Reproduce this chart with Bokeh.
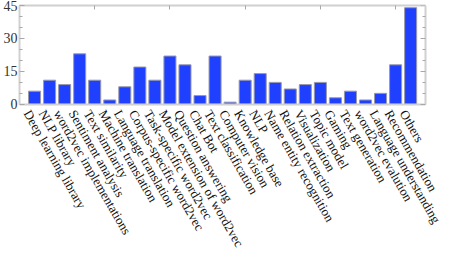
import math
from bokeh.plotting import figure
from bokeh.models import Range1d, FixedTicker, LinearAxis, ColumnDataSource
from bokeh.core.properties import value
from bokeh.embed import file_html
from bokeh.resources import INLINE

categories = [
    "Deep learning library", "NLP library", "word2vec implementations",
    "Sentiment analysis", "Text similarity", "Machine translation",
    "Language translation", "Corpus-specific word2vec", "Task-specific word2vec",
    "Model extension of word2vec", "Question answering", "Chat Bot",
    "Text classification", "Computer vision", "Knowledge base", "NLP",
    "Name entity recognition", "Relation extraction", "Visualization",
    "Topic model", "Gaming", "Text generation", "word2vec evalution",
    "Language understanding", "Recommendation", "Others",
]
counts = [6, 11, 9, 23, 11, 2, 8, 17, 11, 22, 18, 4, 22, 1, 11, 14, 10, 7, 9,
          10, 3, 6, 2, 5, 18, 44]
y_ticks = [0, 15, 30, 45]
y_minor = [5, 10, 20, 25, 35, 40]
top_ticks = [5, 10, 15, 20, 25]

n = len(categories)
positions = list(range(1, n + 1))
source = ColumnDataSource(dict(x=positions, top=counts, name=categories,
                               base=[0] * n))

X_END = n + 1        # right spine of the plotted box
Y_MAX = 45
Y_MIN = -67          # room below the bars for the slanted labels
X_VIEW = 28.45       # room right of the box for label overhang
FONT = "Liberation Serif"
FRAME = "#d0d0d0"
TICK = "#a8a8a8"

p = figure(width=447, height=251, output_backend="svg", toolbar_location=None,
           x_range=Range1d(0, X_VIEW), y_range=Range1d(Y_MIN, Y_MAX),
           min_border_left=15, min_border_right=0, min_border_top=5,
           min_border_bottom=0, x_axis_location=None, y_axis_location=None)
p.grid.visible = False
p.outline_line_color = None
p.background_fill_color = "white"
p.border_fill_color = "white"

p.vbar(x="x", top="top", width=0.8, bottom=0, source=source,
       fill_color="#2040ff", line_color="#9a9aa8", line_width=1)

# slanted category labels
p.text(x="x", y="base", text="name", source=source,
       angle=-math.pi / 3, text_align="left", text_baseline="top",
       x_offset=-1, y_offset=3,
       text_font=value(FONT), text_font_size="13px", text_color="#111111")

# bottom spine at zero (no ticks, no labels)
xb = LinearAxis(ticker=FixedTicker(ticks=[]), fixed_location=0, bounds=(0, X_END))
xb.axis_line_color = FRAME
xb.axis_line_width = 2
xb.major_tick_line_color = None
xb.minor_tick_line_color = None
p.add_layout(xb, "below")

# top axis: ticks only
xt = LinearAxis(ticker=FixedTicker(ticks=top_ticks), bounds=(0, X_END),
                major_label_overrides={t: "" for t in top_ticks})
xt.major_label_standoff = 0
xt.major_tick_in = 4
xt.major_tick_out = 0
xt.major_tick_line_color = TICK
xt.minor_tick_line_color = None
xt.axis_line_color = FRAME
xt.axis_line_width = 2
p.add_layout(xt, "above")

# left axis
yl = LinearAxis(ticker=FixedTicker(ticks=y_ticks, minor_ticks=y_minor),
                bounds=(0, Y_MAX))
yl.major_tick_in = 5
yl.major_tick_out = 0
yl.minor_tick_in = 3
yl.minor_tick_out = 0
yl.major_tick_line_color = TICK
yl.minor_tick_line_color = TICK
yl.axis_line_color = FRAME
yl.axis_line_width = 2
yl.major_label_standoff = 2
yl.major_label_text_font = FONT
yl.major_label_text_font_size = "14px"
yl.major_label_text_color = "#333333"
p.add_layout(yl, "left")

# right spine with ticks at the end of the box
yr = LinearAxis(ticker=FixedTicker(ticks=y_ticks, minor_ticks=y_minor),
                bounds=(0, Y_MAX), fixed_location=X_END,
                major_label_overrides={t: "" for t in y_ticks})
yr.major_label_standoff = 0
yr.major_tick_in = 5
yr.major_tick_out = 0
yr.minor_tick_in = 3
yr.minor_tick_out = 0
yr.major_tick_line_color = TICK
yr.minor_tick_line_color = TICK
yr.axis_line_color = FRAME
yr.axis_line_width = 2
p.add_layout(yr, "right")

open("out.html", "w").write(file_html(p, INLINE))
